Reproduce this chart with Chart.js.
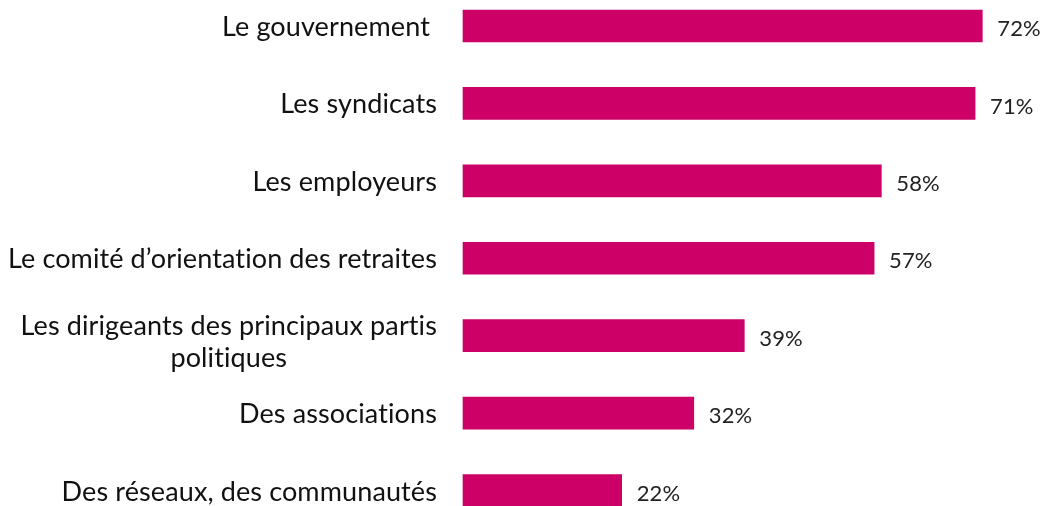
<!DOCTYPE html>
<html>
<head>
<meta charset="utf-8">
<script src="https://cdn.jsdelivr.net/npm/chart.js@4"></script>
<style>
  html, body { margin: 0; padding: 0; background: #fff; }
  #wrap { width: 1045px; height: 506px; }
</style>
</head>
<body>
<div id="wrap"><canvas id="chart" width="1045" height="506"></canvas></div>
<script>
// catégories et valeurs (%)
const categories = [
  'Le gouvernement ',
  'Les syndicats',
  'Les employeurs',
  'Le comité d’orientation des retraites',
  ['Les dirigeants des principaux partis', 'politiques'],
  'Des associations',
  'Des réseaux, des communautés'
];
const values = [72, 71, 58, 57, 39, 32, 22];
const valueLabels = ['72%', '71%', '58%', '57%', '39%', '32%', '22%'];

const BAR_COLOR = '#cc0066';
const LABEL_FONT = '27px Lato';
const VALUE_FONT = '22px Lato';
const LABEL_RIGHT = 437;   // bord droit des libellés
const LINE_H = 32;

// pas de ligatures (« ti » de Lato)
function noLigatures(ctx) {
  if ('letterSpacing' in ctx) ctx.letterSpacing = '0.1px';
}

// libellés de catégories dessinés à la main (alignement centré pour les lignes multiples)
const categoryLabels = {
  id: 'categoryLabels',
  afterDraw(chart) {
    const ctx = chart.ctx;
    const yScale = chart.scales.y;
    ctx.save();
    ctx.font = LABEL_FONT;
    noLigatures(ctx);
    ctx.fillStyle = '#111';
    ctx.textBaseline = 'alphabetic';
    // resserrement horizontal pour imiter une police étroite
    const sx = 429 / ctx.measureText('Le comité d’orientation des retraites').width;
    categories.forEach((label, i) => {
      const cy = yScale.getPixelForValue(i);
      const lines = Array.isArray(label) ? label : [label];
      const n = lines.length;
      const widths = lines.map(l => ctx.measureText(l).width * sx);
      const maxW = Math.max(...widths);
      lines.forEach((line, j) => {
        const y = cy + 10 + (j - (n - 1) / 2) * LINE_H + (n > 1 ? 5 : 0);
        let right;
        if (n > 1) {
          right = LABEL_RIGHT - maxW / 2 + widths[j] / 2;
        } else {
          right = LABEL_RIGHT;
        }
        ctx.save();
        ctx.translate(right - widths[j], y);
        ctx.scale(sx, 1);
        ctx.textAlign = 'left';
        ctx.fillText(line, 0, 0);
        ctx.restore();
      });
    });
    ctx.restore();
  }
};

// valeurs au bout des barres
const valueLabelsPlugin = {
  id: 'valueLabels',
  afterDatasetsDraw(chart) {
    const ctx = chart.ctx;
    const meta = chart.getDatasetMeta(0);
    ctx.save();
    ctx.font = VALUE_FONT;
    noLigatures(ctx);
    ctx.fillStyle = '#222';
    ctx.textAlign = 'left';
    ctx.textBaseline = 'middle';
    meta.data.forEach((bar, i) => {
      ctx.fillText(valueLabels[i], bar.x + 15, bar.y + 3);
    });
    ctx.restore();
  }
};

new Chart(document.getElementById('chart').getContext('2d'), {
  type: 'bar',
  data: {
    labels: categories,
    datasets: [{
      data: values,
      backgroundColor: BAR_COLOR,
      borderWidth: 0,
      barThickness: 32,
      clip: false
    }]
  },
  options: {
    indexAxis: 'y',
    responsive: false,
    animation: false,
    layout: { padding: { left: 463, right: 5, top: 26, bottom: 15.5 } },
    scales: {
      x: { display: false, min: 0, max: 80 },
      y: { display: false, offset: false }
    },
    plugins: {
      legend: { display: false },
      tooltip: { enabled: false }
    }
  },
  plugins: [categoryLabels, valueLabelsPlugin]
});
</script>
</body>
</html>
